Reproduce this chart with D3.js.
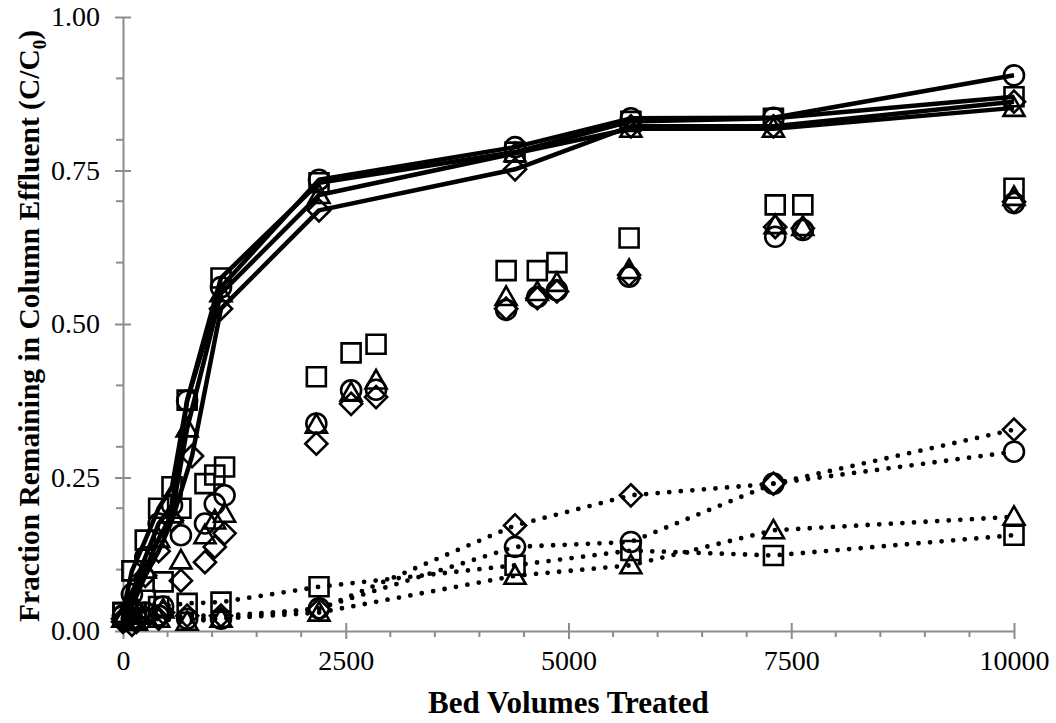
<!DOCTYPE html>
<html>
<head>
<meta charset="utf-8">
<script src="https://cdn.jsdelivr.net/npm/d3@7"></script>
<style>
  html, body { margin: 0; padding: 0; background: #fff; }
  svg { display: block; }
  text { font-family: "Liberation Serif", "Times New Roman", serif; fill: #000; }
</style>
</head>
<body>
<svg id="chart" width="1056" height="723"></svg>
<script>
// ---- Data -------------------------------------------------------------
// Group A: fast breakthrough (solid lines)
const solidX        = [0, 100, 250, 400, 550, 720, 1100, 2200, 4400, 5700, 7300, 10000];
const solidSquare   = [0.03, 0.098, 0.148, 0.20, 0.235, 0.376, 0.575, 0.730, 0.780, 0.830, 0.835, 0.870];
const solidCircle   = [0.025, 0.060, 0.120, 0.175, 0.205, 0.375, 0.560, 0.735, 0.788, 0.835, 0.836, 0.905];
const solidTriangle = [0.020, 0.050, 0.100, 0.150, 0.190, 0.330, 0.550, 0.710, 0.778, 0.818, 0.818, 0.852];
const solidDiamondX = [0, 100, 250, 400, 550, 775, 1100, 2200, 4400, 5700, 7300, 10000];
const solidDiamond  = [0.015, 0.040, 0.090, 0.130, 0.180, 0.285, 0.525, 0.685, 0.752, 0.822, 0.822, 0.862];

// Group B: intermediate breakthrough (markers only)
const scatterX        = [100, 250, 450, 650, 920, 1030, 1140, 2170, 2560, 2840, 4300, 4650, 4870, 5680, 7320, 7630, 10000];
const scatterSquare   = [0.030, 0.050, 0.080, 0.200, 0.240, 0.254, 0.267, 0.414, 0.453, 0.467, 0.587, 0.587, 0.600, 0.640, 0.694, 0.694, 0.721];
const scatterCircle   = [0.020, 0.030, 0.040, 0.156, 0.175, 0.207, 0.221, 0.338, 0.392, 0.393, 0.523, 0.544, 0.555, 0.577, 0.642, 0.653, 0.697];
const scatterTriangle = [0.015, 0.025, 0.035, 0.115, 0.156, 0.180, 0.191, 0.336, 0.388, 0.408, 0.544, 0.552, 0.567, 0.588, 0.661, 0.658, 0.707];
const scatterDiamond  = [0.010, 0.020, 0.030, 0.082, 0.112, 0.137, 0.159, 0.305, 0.370, 0.381, 0.525, 0.542, 0.553, 0.580, 0.658, 0.656, 0.699];

// Group C: slow breakthrough (dotted lines)
const dottedX        = [0, 150, 400, 720, 1100, 2200, 4400, 5700, 7300, 10000];
const dottedSquare   = [0.030, 0.030, 0.040, 0.045, 0.047, 0.072, 0.107, 0.131, 0.123, 0.156];
const dottedCircle   = [0.025, 0.020, 0.025, 0.020, 0.020, 0.037, 0.137, 0.145, 0.240, 0.292];
const dottedTriangle = [0.020, 0.015, 0.020, 0.015, 0.020, 0.030, 0.090, 0.107, 0.164, 0.186];
const dottedDiamond  = [0.020, 0.015, 0.020, 0.025, 0.025, 0.035, 0.172, 0.221, 0.240, 0.328];

// Axis ticks
const xMajorTicks = [0, 2500, 5000, 7500, 10000];
const xMinorTicks = d3.range(500, 10000, 500).filter(v => v % 2500 !== 0);
const yMajorTicks = [0, 0.25, 0.5, 0.75, 1.0];
const yMinorTicks = [0.1, 0.2, 0.3, 0.4, 0.6, 0.7, 0.8, 0.9];

// ---- Layout -----------------------------------------------------------
const svg = d3.select("#chart");
const margin = { left: 123, right: 42, top: 17, bottom: 92 };
const W = 1056, H = 723;
const x = d3.scaleLinear().domain([0, 10000]).range([margin.left, W - margin.right]);
const y = d3.scaleLinear().domain([0, 1]).range([H - margin.bottom, margin.top]);

const axisColor = "#8c8c8c";
const tickFont = 28;

// ---- Axes -------------------------------------------------------------
const gx = svg.append("g").attr("transform", `translate(0,${y(0)})`)
  .call(d3.axisBottom(x).tickValues(xMajorTicks).tickFormat(d3.format("d")).tickSizeInner(8).tickSizeOuter(0).tickPadding(11));
gx.select(".domain").attr("stroke", axisColor).attr("stroke-width", 2);
gx.selectAll(".tick line").attr("stroke", axisColor).attr("stroke-width", 2).attr("y1", -8).attr("y2", 8);
gx.selectAll(".tick text").attr("font-size", tickFont).attr("font-family", "Liberation Serif");
gx.selectAll(".minor").data(xMinorTicks).enter().append("line")
  .attr("class", "minor").attr("x1", d => x(d)).attr("x2", d => x(d))
  .attr("y1", 0).attr("y2", 6).attr("stroke", axisColor).attr("stroke-width", 2);

const gy = svg.append("g").attr("transform", `translate(${x(0)},0)`)
  .call(d3.axisLeft(y).tickValues(yMajorTicks).tickFormat(d3.format(".2f")).tickSizeInner(8).tickSizeOuter(0).tickPadding(15));
gy.select(".domain").attr("stroke", axisColor).attr("stroke-width", 2);
gy.selectAll(".tick line").attr("stroke", axisColor).attr("stroke-width", 2).attr("x1", -8).attr("x2", 8);
gy.selectAll(".tick text").attr("font-size", tickFont).attr("font-family", "Liberation Serif");
gy.selectAll(".minor").data(yMinorTicks).enter().append("line")
  .attr("class", "minor").attr("y1", d => y(d)).attr("y2", d => y(d))
  .attr("x1", -7).attr("x2", 0).attr("stroke", axisColor).attr("stroke-width", 2);

// Axis titles
svg.append("text")
  .attr("x", (x(0) + x(10000)) / 2).attr("y", 713)
  .attr("text-anchor", "middle").attr("font-size", 31).attr("font-weight", "bold")
  .text("Bed Volumes Treated");

const yTitle = svg.append("text")
  .attr("transform", `translate(39,${(y(0) + y(1)) / 2 + 2}) rotate(-90)`)
  .attr("text-anchor", "middle").attr("font-size", 29.5).attr("font-weight", "bold");
yTitle.append("tspan").text("Fraction Remaining in Column Effluent (C/C");
yTitle.append("tspan").attr("font-size", 19).attr("dy", 7).text("0");
yTitle.append("tspan").attr("dy", -7).text(")");

// ---- Marker shapes ----------------------------------------------------
const shapes = {
  circle:   r => `M${r},0A${r},${r} 0 1,1 ${-r},0A${r},${r} 0 1,1 ${r},0Z`,
  square:   r => `M${-r},${-r}H${r}V${r}H${-r}Z`,
  triangle: r => `M0,${-r * 1.05}L${r * 1.05},${r * 0.8}L${-r * 1.05},${r * 0.8}Z`,
  diamond:  r => `M0,${-r * 1.3}L${r * 1.3},0L0,${r * 1.3}L${-r * 1.3},0Z`
};
const markerR = { circle: 10, square: 9.5, triangle: 10, diamond: 8.5 };

function drawSeries(xs, ys, shape, lineStyle) {
  const pts = xs.map((d, i) => [d, ys[i]]);
  const g = svg.append("g");
  if (lineStyle) {
    const line = d3.line().x(d => x(d[0])).y(d => y(d[1]));
    const path = g.append("path").datum(pts).attr("d", line)
      .attr("fill", "none").attr("stroke", "#000")
      .attr("stroke-linejoin", "round");
    if (lineStyle === "solid") {
      path.attr("stroke-width", 4.5);
    } else {
      path.attr("stroke-width", 4.8).attr("stroke-linecap", "round").attr("stroke-dasharray", "0 11.6");
    }
  }
  g.selectAll("path.mk").data(pts).enter().append("path")
    .attr("class", "mk")
    .attr("transform", d => `translate(${x(d[0])},${y(d[1])})`)
    .attr("d", shapes[shape](markerR[shape]))
    .attr("fill", "none").attr("stroke", "#000").attr("stroke-width", 2.6);
}

// Intermediate group (markers only)
drawSeries(scatterX, scatterSquare, "square", null);
drawSeries(scatterX, scatterCircle, "circle", null);
drawSeries(scatterX, scatterTriangle, "triangle", null);
drawSeries(scatterX, scatterDiamond, "diamond", null);

// Slow group (dotted lines)
drawSeries(dottedX, dottedSquare, "square", "dotted");
drawSeries(dottedX, dottedCircle, "circle", "dotted");
drawSeries(dottedX, dottedTriangle, "triangle", "dotted");
drawSeries(dottedX, dottedDiamond, "diamond", "dotted");

// Fast group (solid lines)
drawSeries(solidX, solidSquare, "square", "solid");
drawSeries(solidX, solidCircle, "circle", "solid");
drawSeries(solidX, solidTriangle, "triangle", "solid");
drawSeries(solidDiamondX, solidDiamond, "diamond", "solid");
</script>
</body>
</html>
